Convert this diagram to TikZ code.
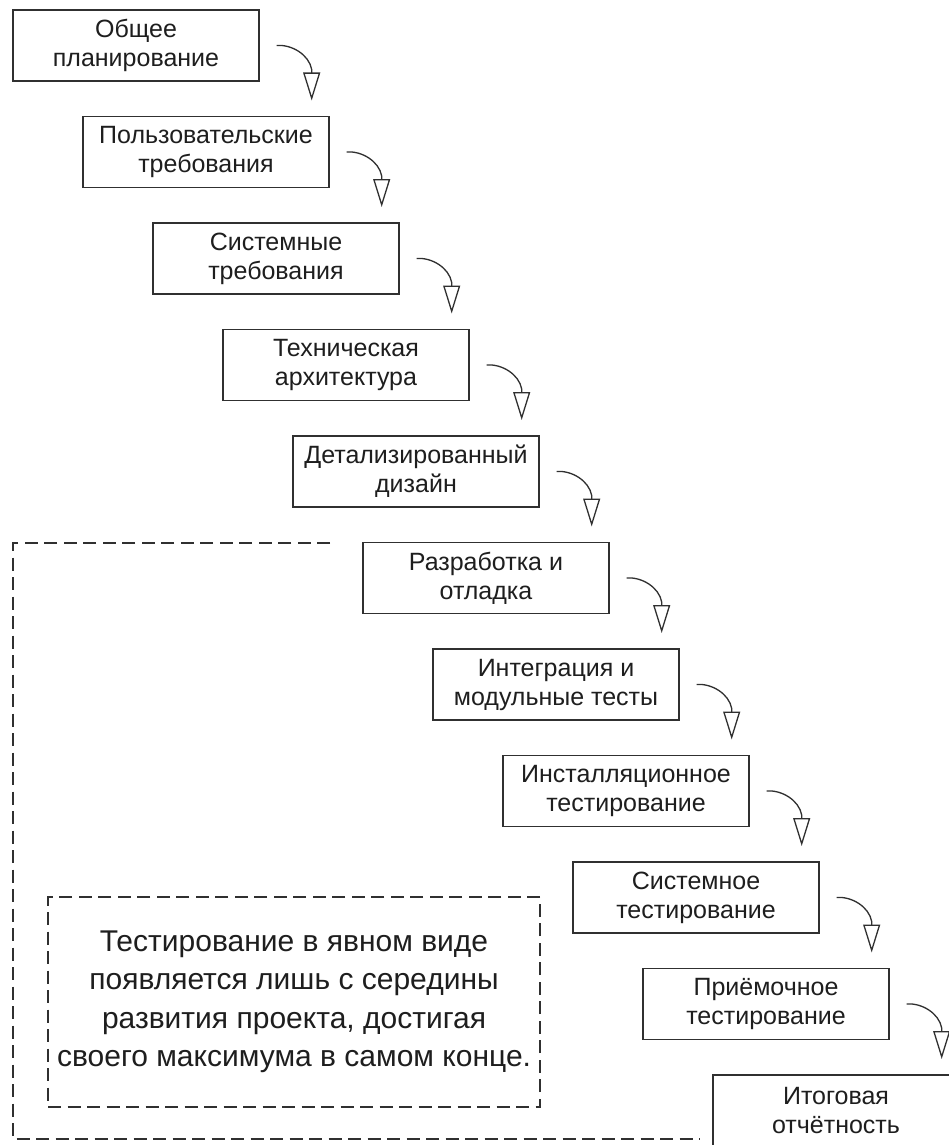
\documentclass[tikz,border=0pt]{standalone}
\usepackage{fontspec}
\setmainfont{Liberation Sans}
\usetikzlibrary{arrows.meta,calc}
\definecolor{ink}{HTML}{1E1E1E}
\definecolor{edge}{HTML}{303030}
\tikzset{
  stage/.style={draw=edge, line width=1.4pt, minimum width=246pt, minimum height=71pt,
    inner sep=0pt, align=center, text=ink, font=\fontsize{25}{29}\selectfont},
  flowarrow/.style={draw=edge, line width=1.3pt,
    -{Triangle[open, length=28pt, width=17pt, line width=1.3pt]}},
  zone/.style={draw=edge, line width=1.8pt, dash pattern=on 13pt off 6.5pt},
  note/.style={draw=edge, line width=1.8pt, dash pattern=on 13pt off 6.5pt,
    minimum width=492pt, minimum height=210pt, inner sep=0pt, align=center, text=ink,
    font=\fontsize{30}{38.5}\selectfont}
}
\begin{document}
\begin{tikzpicture}[x=1pt,y=-1pt]
\useasboundingbox (0,0) rectangle (949,1145);
\fill[white] (0,0) rectangle (949,1145);

\node[stage] (s1) at (136,45.5) {Общее\\планирование};
\node[stage] (s2) at (206,152) {Пользовательские\\требования};
\node[stage] (s3) at (276,258.5) {Системные\\требования};
\node[stage] (s4) at (346,365) {Техническая\\архитектура};
\node[stage] (s5) at (416,471.5) {Детализированный\\дизайн};
\node[stage] (s6) at (486,578) {Разработка и\\отладка};
\node[stage] (s7) at (556,684.5) {Интеграция и\\модульные тесты};
\node[stage] (s8) at (626,791) {Инсталляционное\\тестирование};
\node[stage] (s9) at (696,897.5) {Системное\\тестирование};
\node[stage] (s10) at (766,1004) {Приёмочное\\тестирование};
\node[stage] (s11) at (836,1110.5) {Итоговая\\отчётность};

\foreach \k in {1,...,10}{
  \draw[flowarrow] ($(s\k.east)+(17,0)$) to[out=5,in=100,looseness=0.9] ($(s\k.east)+(52,24)$) -- ($(s\k.east)+(52,55)$);
}

\coordinate (z1) at (330,543);
\coordinate (z2) at (13,543);
\coordinate (z3) at (13,1139);
\coordinate (z4) at (700,1139);
\draw[zone] (z1) -- (z2) -- (z3) -- (z4);

\node[note] (n) at (294,1002) {Тестирование в явном виде\\появляется лишь с середины\\развития проекта, достигая\\своего максимума в самом конце.};
\end{tikzpicture}
\end{document}
